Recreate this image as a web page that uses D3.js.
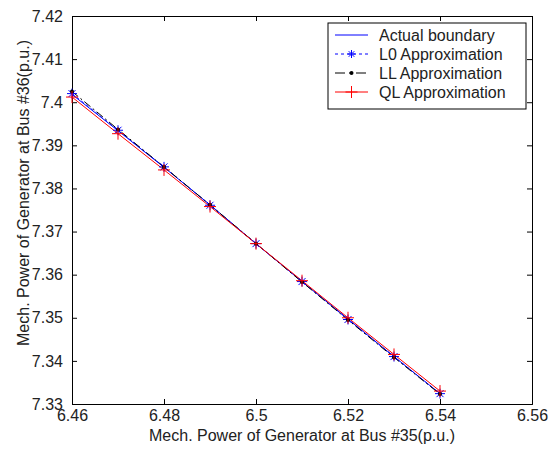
<!DOCTYPE html>
<html>
<head>
<meta charset="utf-8">
<script src="https://cdn.jsdelivr.net/npm/d3@7"></script>
<style>
  body { margin: 0; background: #fff; }
  text { font-family: Arial, "Liberation Sans", sans-serif; }
</style>
</head>
<body>
<div id="chart"></div>
<script>
// data
var xVals = [6.46, 6.47, 6.48, 6.49, 6.50, 6.51, 6.52, 6.53, 6.54];
var actualY = [7.4018, 7.3934, 7.3849, 7.3762, 7.3672, 7.3584, 7.3497, 7.3410, 7.3324];
var l0Y     = [7.4020, 7.3935, 7.3850, 7.3761, 7.3672, 7.3584, 7.3496, 7.3410, 7.3324];
var llY     = [7.4025, 7.3937, 7.3850, 7.3762, 7.3672, 7.3583, 7.3495, 7.3408, 7.3323];
var qlY     = [7.4012, 7.3927, 7.3843, 7.3758, 7.3672, 7.3586, 7.3500, 7.3415, 7.3330];
var xTicks = [6.46, 6.48, 6.5, 6.52, 6.54, 6.56];
var yTicks = [7.33, 7.34, 7.35, 7.36, 7.37, 7.38, 7.39, 7.4, 7.41, 7.42];
var seriesNames = ["Actual boundary", "L0 Approximation", "LL Approximation", "QL Approximation"];

var width = 550, height = 449;
var margin = {left: 72, right: 18, top: 16, bottom: 45};
var fs = 16;

var svg = d3.select("#chart").append("svg")
  .attr("width", width).attr("height", height);

var x = d3.scaleLinear().domain([6.46, 6.56]).range([margin.left, width - margin.right]);
var y = d3.scaleLinear().domain([7.33, 7.42]).range([height - margin.bottom, margin.top]);

var fmt = function(d) { return String(+d.toFixed(2)); };

// axes, ticks pointing inwards
svg.append("g").attr("transform", "translate(0," + y(7.33) + ")")
  .call(d3.axisBottom(x).tickValues(xTicks).tickSize(-5).tickPadding(6).tickFormat(fmt))
  .attr("class", "ax");
svg.append("g").attr("transform", "translate(0," + y(7.42) + ")")
  .call(d3.axisTop(x).tickValues(xTicks).tickSize(-5).tickFormat(""))
  .attr("class", "ax");
svg.append("g").attr("transform", "translate(" + x(6.46) + ",0)")
  .call(d3.axisLeft(y).tickValues(yTicks).tickSize(-5).tickPadding(9).tickFormat(fmt))
  .attr("class", "ax");
svg.append("g").attr("transform", "translate(" + x(6.56) + ",0)")
  .call(d3.axisRight(y).tickValues(yTicks).tickSize(-5).tickFormat(""))
  .attr("class", "ax");

svg.selectAll(".ax path").attr("stroke", "#000");
svg.selectAll(".ax line").attr("stroke", "#000");
svg.selectAll(".ax text").attr("font-size", fs).attr("fill", "#222")
  .attr("font-family", "Arial, 'Liberation Sans', sans-serif");

// series
function pts(ys) { return xVals.map(function(v, i) { return [v, ys[i]]; }); }
var line = d3.line().x(function(d) { return x(d[0]); }).y(function(d) { return y(d[1]); });

svg.append("path").datum(pts(actualY)).attr("d", line)
  .attr("fill", "none").attr("stroke", "#0000ff").attr("stroke-width", 1);
svg.append("path").datum(pts(l0Y)).attr("d", line)
  .attr("fill", "none").attr("stroke", "#0000ff").attr("stroke-width", 1).attr("stroke-dasharray", "3,3");
svg.append("path").datum(pts(llY)).attr("d", line)
  .attr("fill", "none").attr("stroke", "#000").attr("stroke-width", 1).attr("stroke-dasharray", "8,3,2,3");
svg.append("path").datum(pts(qlY)).attr("d", line)
  .attr("fill", "none").attr("stroke", "#ff0000").attr("stroke-width", 1);

function star(g, cx, cy, r, color) {
  g.append("path")
    .attr("d", "M" + (cx - r) + "," + cy + "H" + (cx + r) + "M" + cx + "," + (cy - r) + "V" + (cy + r) +
      "M" + (cx - r * 0.7) + "," + (cy - r * 0.7) + "L" + (cx + r * 0.7) + "," + (cy + r * 0.7) +
      "M" + (cx - r * 0.7) + "," + (cy + r * 0.7) + "L" + (cx + r * 0.7) + "," + (cy - r * 0.7))
    .attr("stroke", color).attr("stroke-width", 1).attr("fill", "none");
}
function plus(g, cx, cy, r, color) {
  g.append("path")
    .attr("d", "M" + (cx - r) + "," + cy + "H" + (cx + r) + "M" + cx + "," + (cy - r) + "V" + (cy + r))
    .attr("stroke", color).attr("stroke-width", 1).attr("fill", "none");
}
function dot(g, cx, cy, color) {
  g.append("circle").attr("cx", cx).attr("cy", cy).attr("r", 2).attr("fill", color);
}

var mk = svg.append("g");
pts(l0Y).forEach(function(d) { star(mk, x(d[0]), y(d[1]), 5, "#0000ff"); });
pts(llY).forEach(function(d) { dot(mk, x(d[0]), y(d[1]), "#000"); });
pts(qlY).forEach(function(d) { plus(mk, x(d[0]), y(d[1]), 6, "#ff0000"); });

// legend
var lg = svg.append("g");
lg.append("rect").attr("x", 328).attr("y", 23).attr("width", 198).attr("height", 86)
  .attr("fill", "#fff").attr("stroke", "#000");
var styles = [
  {c: "#0000ff", dash: null, m: null},
  {c: "#0000ff", dash: "3,3", m: "star"},
  {c: "#000", dash: "10,4,3,4", m: "dot"},
  {c: "#ff0000", dash: null, m: "plus"}
];
seriesNames.forEach(function(name, i) {
  var yy = 35 + i * 19;
  var s = styles[i];
  var ln = lg.append("line").attr("x1", 335).attr("x2", 368).attr("y1", yy).attr("y2", yy)
    .attr("stroke", s.c);
  if (s.dash) ln.attr("stroke-dasharray", s.dash);
  if (s.m === "star") star(lg, 351.5, yy, 4, s.c);
  if (s.m === "dot") dot(lg, 351.5, yy, s.c);
  if (s.m === "plus") plus(lg, 351.5, yy, 6, s.c);
  lg.append("text").attr("x", 379).attr("y", yy + 6).attr("font-size", fs).attr("fill", "#222").text(name);
});

// axis titles
svg.append("text").attr("x", (x(6.46) + x(6.56)) / 2).attr("y", 441)
  .attr("text-anchor", "middle").attr("font-size", fs).attr("fill", "#222")
  .text("Mech. Power of Generator at Bus #35(p.u.)");
svg.append("text").attr("transform", "translate(29,193) rotate(-90)")
  .attr("text-anchor", "middle").attr("font-size", fs).attr("fill", "#222")
  .text("Mech. Power of Generator at Bus #36(p.u.)");
</script>
</body>
</html>
